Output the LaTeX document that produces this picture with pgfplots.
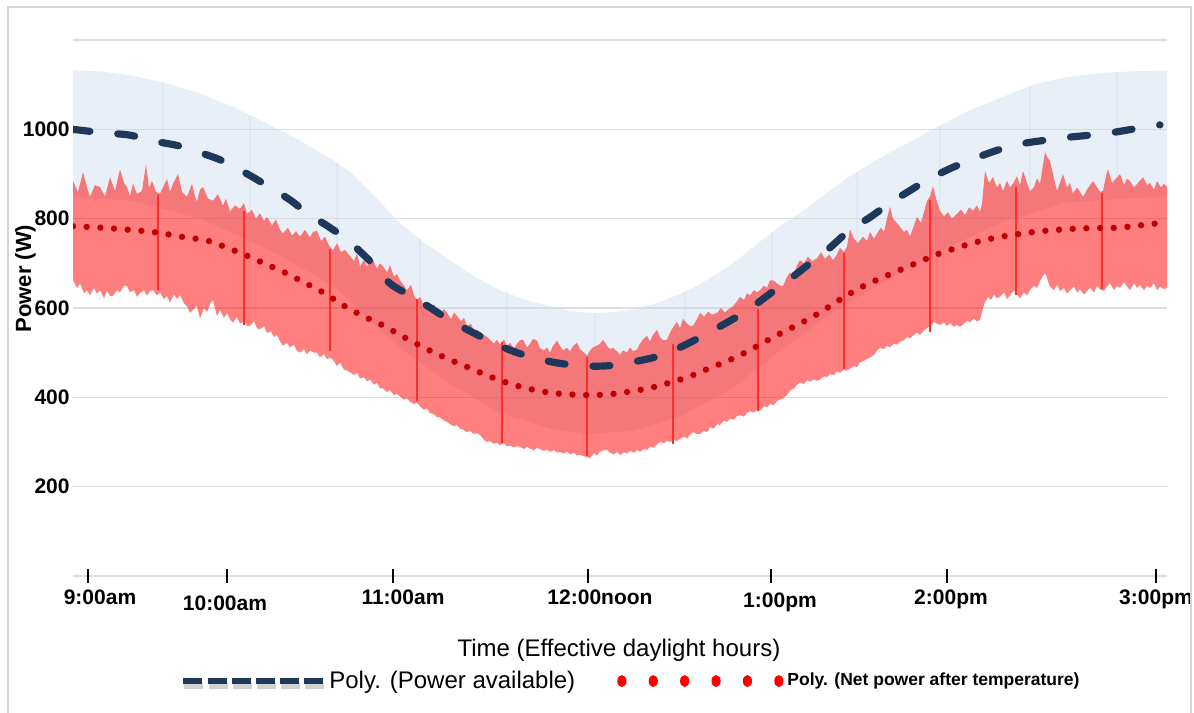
\documentclass[border=0pt]{standalone}
\usepackage{fontspec}
\setmainfont{Liberation Sans}
\usepackage{pgfplots}
\pgfplotsset{compat=1.18}
\usepackage{pgfplotstable}
\usepgfplotslibrary{fillbetween}

\definecolor{navy}{RGB}{30,56,92}
\definecolor{netred}{RGB}{192,0,0}
\definecolor{bandblue}{RGB}{200,215,235}
\definecolor{gridgray}{RGB}{222,222,222}
\definecolor{spikered}{RGB}{255,45,45}
\definecolor{framegray}{RGB}{214,214,214}

% x is a sample position along the day (not linear in clock time)
% envelope of power available
\pgfplotstableread[row sep=\\]{x y\\
73 1132\\100 1130\\133 1120\\167 1103\\200 1080\\233 1050\\267 1013\\300 975\\333 931\\350 905\\
375 850\\400 789\\425 745\\450 707\\475 670\\500 640\\525 618\\550 604\\570 594\\590 589\\610 590\\
633 596\\658 612\\683 634\\708 664\\733 700\\758 745\\783 789\\800 812\\825 855\\850 895\\875 930\\
900 960\\933 1000\\967 1040\\1000 1070\\1033 1100\\1067 1117\\1100 1126\\1133 1130\\1167 1131\\}\bluetop
\pgfplotstableread[row sep=\\]{x y\\
73 850\\133 840\\200 800\\267 733\\333 650\\400 510\\450 430\\500 365\\550 330\\590 318\\633 325\\
683 360\\733 420\\783 510\\850 615\\933 720\\1000 790\\1067 837\\1167 850\\}\bluebot

% net power after temperature: upper and lower edge
\pgfplotstableread[row sep=\\]{x y\\
73 884\\78 860\\83 904\\87 870\\90 849\\95 875\\100 871\\105 850\\110 893\\115 862\\120 911\\124 880\\
127 871\\130 850\\133 878\\137 855\\142 862\\146 922\\149 870\\152 884\\156 860\\160 856\\164 875\\
167 889\\170 860\\173 878\\178 900\\182 860\\187 849\\192 878\\195 850\\197 838\\200 865\\203 871\\
208 845\\213 840\\218 855\\223 829\\226 845\\230 816\\235 830\\240 822\\244 835\\247 811\\252 820\\
256 800\\260 812\\264 795\\267 804\\272 785\\276 798\\280 775\\283 767\\288 780\\292 762\\296 772\\
300 760\\305 775\\310 758\\313 770\\317 773\\321 750\\325 760\\329 740\\333 729\\337 745\\341 725\\
345 730\\350 716\\354 705\\357 722\\360 693\\364 708\\367 693\\370 710\\373 707\\377 688\\380 700\\
383 693\\387 680\\390 696\\394 670\\397 676\\400 662\\404 650\\407 640\\411 652\\414 628\\417 618\\
420 625\\424 605\\427 611\\431 600\\434 608\\437 596\\441 585\\444 598\\447 589\\451 575\\454 590\\
457 582\\461 570\\464 578\\467 560\\471 565\\474 548\\477 551\\481 544\\484 540\\487 535\\490 529\\
494 520\\497 529\\500 518\\504 530\\507 515\\510 522\\514 510\\517 520\\520 528\\523 529\\527 512\\
530 520\\533 531\\537 527\\540 510\\544 505\\547 512\\550 500\\553 515\\557 527\\560 515\\563 505\\
567 511\\570 503\\573 515\\577 522\\580 508\\584 500\\587 493\\590 505\\593 512\\597 516\\600 520\\
603 529\\607 515\\610 508\\613 511\\617 503\\620 495\\623 505\\627 500\\630 512\\633 503\\637 507\\
640 520\\643 530\\647 538\\650 525\\653 540\\657 551\\660 535\\663 528\\667 529\\670 545\\674 560\\
677 569\\680 555\\683 576\\687 565\\690 560\\693 560\\697 575\\700 589\\704 580\\708 592\\712 585\\
717 589\\721 600\\725 590\\729 598\\733 604\\737 615\\740 625\\744 618\\747 633\\750 628\\754 640\\
757 635\\760 640\\764 650\\767 645\\770 662\\773 662\\777 655\\780 650\\783 649\\786 665\\790 680\\
793 672\\797 695\\800 707\\804 700\\808 715\\812 705\\817 711\\821 725\\825 710\\829 720\\833 707\\
837 720\\840 735\\844 725\\847 738\\850 776\\854 755\\858 745\\863 760\\867 750\\870 770\\874 755\\
877 767\\881 780\\884 770\\887 800\\890 827\\893 800\\897 790\\900 782\\904 770\\907 775\\910 760\\
914 785\\917 804\\921 790\\924 815\\927 840\\930 850\\933 873\\936 845\\940 818\\944 805\\948 815\\
952 800\\957 811\\961 820\\965 808\\969 825\\973 818\\977 830\\980 815\\982 833\\985 907\\989 880\\
993 893\\997 870\\1000 880\\1003 862\\1007 885\\1010 870\\1013 878\\1017 895\\1020 875\\1023 907\\
1027 880\\1030 862\\1034 870\\1037 890\\1040 878\\1043 920\\1045 949\\1048 935\\1050 929\\1054 890\\
1057 862\\1060 880\\1063 900\\1067 870\\1070 880\\1073 856\\1077 870\\1080 860\\1083 849\\1087 865\\
1090 875\\1093 884\\1097 870\\1100 860\\1103 862\\1106 895\\1108 911\\1112 880\\1116 890\\1120 900\\
1124 875\\1127 890\\1130 884\\1134 870\\1138 880\\1143 893\\1147 875\\1150 880\\1154 865\\1157 884\\
1161 870\\1164 878\\1167 871\\}\redtop
\pgfplotstableread[row sep=\\]{x y\\
73 662\\77 645\\80 655\\84 633\\87 640\\90 628\\94 645\\97 632\\100 640\\104 622\\107 638\\110 627\\
113 627\\117 640\\120 635\\124 650\\127 649\\130 635\\134 640\\137 625\\140 633\\144 640\\147 628\\
150 638\\153 640\\157 628\\160 635\\164 620\\167 627\\170 612\\174 630\\177 620\\180 629\\184 610\\
187 604\\190 589\\193 596\\197 605\\200 576\\204 600\\207 590\\210 610\\213 618\\217 582\\220 595\\
224 578\\227 589\\230 575\\233 567\\237 580\\240 565\\244 570\\247 560\\250 560\\254 570\\257 555\\
260 552\\264 560\\267 544\\271 548\\274 535\\277 540\\280 525\\283 516\\287 522\\290 512\\294 518\\
297 504\\300 500\\304 508\\307 496\\310 505\\314 500\\317 500\\320 490\\324 497\\327 485\\330 489\\
333 484\\337 470\\340 478\\344 462\\347 460\\350 456\\354 450\\357 455\\360 442\\364 445\\367 436\\
370 440\\374 428\\377 433\\380 420\\383 420\\387 412\\390 416\\394 405\\397 408\\400 402\\404 395\\
407 398\\410 390\\414 385\\417 388\\420 380\\424 372\\427 375\\430 365\\434 362\\437 356\\440 355\\
444 348\\447 345\\450 340\\454 335\\457 338\\460 330\\464 327\\467 322\\470 325\\474 318\\477 320\\
480 316\\484 305\\487 300\\490 302\\494 296\\497 298\\500 293\\504 297\\507 290\\510 292\\514 288\\
517 291\\520 289\\524 284\\527 290\\530 285\\534 282\\537 287\\540 284\\544 280\\547 283\\550 278\\
554 282\\557 276\\560 278\\564 274\\567 279\\570 272\\574 276\\577 270\\580 271\\584 268\\587 266\\
590 264\\594 275\\597 270\\600 278\\604 282\\607 282\\610 276\\614 272\\617 278\\620 271\\624 277\\
627 274\\630 280\\634 276\\637 282\\640 278\\644 285\\647 282\\650 290\\654 287\\657 295\\660 300\\
664 297\\667 303\\670 300\\674 305\\677 302\\680 307\\684 312\\687 308\\690 316\\693 322\\697 318\\
700 318\\704 325\\707 322\\710 333\\714 330\\717 340\\720 338\\724 348\\727 345\\730 352\\734 350\\
737 358\\740 360\\744 357\\747 365\\750 369\\754 366\\757 372\\760 370\\764 380\\767 378\\770 385\\
774 383\\777 392\\780 395\\783 398\\787 405\\790 415\\794 420\\797 428\\800 433\\804 430\\807 438\\
810 435\\814 440\\817 437\\820 440\\824 447\\827 445\\830 452\\834 450\\837 458\\840 455\\844 462\\
847 460\\850 464\\854 470\\857 468\\860 478\\864 482\\867 486\\870 489\\874 495\\877 505\\880 511\\
884 508\\887 516\\890 512\\894 520\\897 518\\900 524\\904 528\\907 535\\910 532\\914 540\\917 545\\
920 540\\924 550\\927 555\\930 560\\934 569\\937 565\\940 562\\944 568\\947 560\\950 566\\954 558\\
957 562\\960 558\\964 565\\967 572\\970 568\\974 576\\977 570\\980 573\\983 600\\985 613\\988 625\\
991 618\\994 630\\997 622\\1000 625\\1004 635\\1007 620\\1010 628\\1014 640\\1017 630\\1020 622\\
1024 635\\1027 628\\1030 640\\1034 650\\1037 645\\1040 660\\1043 672\\1045 678\\1048 660\\1050 648\\
1054 640\\1057 652\\1060 638\\1064 645\\1067 632\\1070 640\\1074 648\\1077 635\\1080 642\\1084 630\\
1087 638\\1090 645\\1094 635\\1097 650\\1100 642\\1104 638\\1107 648\\1110 655\\1114 640\\1117 650\\
1120 645\\1124 658\\1127 648\\1130 640\\1134 655\\1137 645\\1140 652\\1144 640\\1147 650\\1150 645\\
1154 655\\1157 640\\1160 648\\1164 642\\1167 645\\}\redbot

% polynomial trend lines
\pgfplotstableread[row sep=\\]{x y\\
73 1000\\100 993\\130 987\\150 975\\177 964\\200 948\\222 930\\245 903\\267 874\\290 842\\308 811\\
330 780\\348 751\\370 705\\390 655\\410 628\\430 601\\450 572\\473 545\\495 520\\517 500\\540 485\\
563 475\\588 470\\610 471\\635 480\\660 493\\683 515\\703 538\\725 565\\747 594\\770 632\\790 665\\
810 700\\827 729\\850 775\\870 803\\890 835\\910 863\\930 890\\953 915\\975 935\\997 953\\1020 967\\
1043 975\\1067 982\\1090 987\\1113 993\\1137 1002\\1160 1010\\}\availpoly
\pgfplotstableread[row sep=\\]{x y\\
73 783\\100 780\\130 775\\157 769\\180 760\\207 751\\227 735\\247 717\\267 697\\287 677\\305 656\\
323 635\\347 601\\365 580\\383 561\\407 531\\425 510\\445 489\\465 470\\483 453\\500 438\\520 424\\
540 414\\560 408\\588 405\\610 407\\630 413\\650 421\\670 433\\690 447\\708 464\\727 481\\745 500\\
763 522\\782 545\\800 565\\820 590\\843 623\\860 645\\880 666\\900 685\\918 702\\937 720\\957 735\\
977 748\\997 758\\1017 765\\1037 771\\1057 775\\1078 778\\1100 779\\1120 780\\1140 785\\1167 792\\}\netpoly

\begin{document}
\begin{tikzpicture}
\begin{axis}[
    at={(36.5bp,68.5bp)}, anchor=south west,
    scale only axis, width=547bp, height=268bp,
    xmin=73, xmax=1167, ymin=0, ymax=1200,
    axis line style={draw=none},
    ymajorgrids, grid style={gridgray, line width=0.8bp},
    ytick={0,200,...,1200},
    yticklabels={,200,400,600,800,1000,},
    major tick length=0pt,
    xtick pos=lower,
    xtick={100,225,403,600,780,951,1156},
    xticklabels={9:00am,\raisebox{-3bp}{10:00am},11:00am,12:00noon,\raisebox{-1.5bp}{1:00pm},2:00pm,3:00pm},
    extra x ticks={88,227,393,588,771,947,1156},
    extra x tick labels={,,,,,,},
    extra x tick style={major tick length=7bp, tick align=center, xtick pos=lower,
        tick style={black, line width=1.1bp}, grid=none},
    tick label style={font=\bfseries\fontsize{10.5bp}{12bp}\selectfont},
    xticklabel style={anchor=base, yshift=-14.5bp},
    yticklabel style={anchor=east, inner xsep=0pt, xshift=-1.5bp},
    xlabel={Time (Effective daylight hours)},
    xlabel style={at={(axis description cs:0.499,-0.1495)}, anchor=base,
        font=\fontsize{12bp}{14bp}\selectfont},
    ylabel={Power (W)},
    ylabel style={at={(axis description cs:-0.0434,0.555)}, anchor=center,
        font=\bfseries\fontsize{11bp}{13bp}\selectfont},
    legend columns=2,
    legend cell align=left,
    legend style={at={(axis description cs:0.0978,-0.196)}, anchor=west,
        draw=none, fill=none, inner sep=0pt, nodes={inner sep=0pt},
        /tikz/column 1/.style={column sep=1bp},
        /tikz/column 2/.style={column sep=21bp},
        /tikz/column 3/.style={column sep=2bp}},
]
% envelope of available power
\addplot[name path=btop, draw=none, forget plot] table {\bluetop};
\addplot[name path=bbot, draw=none, forget plot] table {\bluebot};
\addplot[fill=bandblue, fill opacity=0.4, draw=none, forget plot] fill between[of=btop and bbot];
\addplot[bandblue, opacity=0.3, line width=0.6bp, unbounded coords=jump, forget plot] coordinates {
    (163,875)(163,1105)(163,nan)(250,815)(250,1032)(250,nan)(337,745)(337,925)(337,nan)
    (420,625)(420,757)(420,nan)(507,515)(507,635)(507,nan)(595,515)(595,589)(595,nan)
    (685,570)(685,636)(685,nan)(772,662)(772,770)(772,nan)(857,745)(857,905)(857,nan)
    (940,818)(940,1008)(940,nan)(1030,862)(1030,1098)(1030,nan)(1117,890)(1117,1128)};
% net power after temperature
\addplot[name path=rtop, draw=none, forget plot] table {\redtop};
\addplot[name path=rbot, draw=none, forget plot] table {\redbot};
\addplot[fill=red, fill opacity=0.5, draw=none, forget plot] fill between[of=rtop and rbot];
\addplot[spikered, line width=1.2bp, unbounded coords=jump, forget plot] coordinates {
    (158,852)(158,641)(158,nan)(244,818)(244,562)(244,nan)(330,731)(330,504)(330,nan)
    (417,620)(417,391)(417,nan)(502,524)(502,298)(502,nan)(587,491)(587,269)(587,nan)
    (673,520)(673,296)(673,nan)(758,598)(758,369)(758,nan)(844,724)(844,464)(844,nan)
    (930,842)(930,547)(930,nan)(1016,871)(1016,629)(1016,nan)(1102,858)(1102,642)};
% trend lines
\addplot[navy, line width=3.6bp, line cap=round, dash pattern=on 8.5bp off 14bp, smooth,
    legend image code/.code={
        \draw[gray!35, solid, line cap=butt, line width=3bp, dash pattern=on 9.5bp off 2.6bp] (0.5bp,-2.5bp) -- (70.5bp,-2.5bp);
        \draw[navy, solid, line cap=butt, line width=3bp, dash pattern=on 9.5bp off 2.6bp] (0bp,0bp) -- (70bp,0bp);}]
    table {\availpoly};
\addlegendentry{\fontsize{12bp}{14bp}\selectfont Poly. (Power available)}
\addplot[netred, line width=3.2bp, line cap=round, dash pattern=on 0pt off 6.85bp, smooth,
    legend image code/.code={
        \foreach \i in {0,...,5}{\fill[red, draw=none, solid] (\i*15.7bp+2.3bp,0bp) ellipse[x radius=2.3bp, y radius=3bp];}}]
    table {\netpoly};
\addlegendentry{\bfseries\fontsize{8.75bp}{10bp}\selectfont Poly. (Net power after temperature)}
\end{axis}
\pgfresetboundingbox
\path[use as bounding box] (0,0) rectangle (597bp,356.5bp);
\draw[framegray, line width=1bp] (4bp,-2bp) -- (4bp,353bp) -- (595.5bp,353bp) -- (595.5bp,-2bp);
\end{tikzpicture}
\end{document}
